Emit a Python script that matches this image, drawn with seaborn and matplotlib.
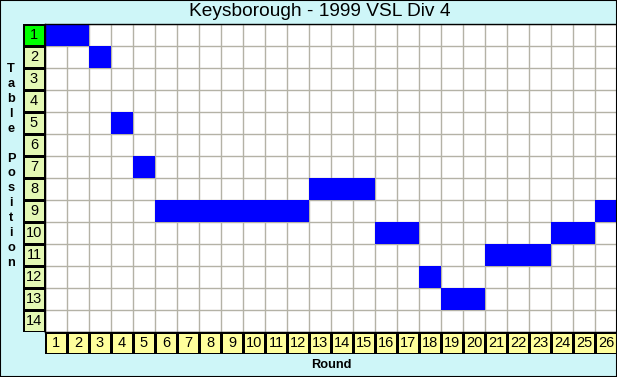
import matplotlib
matplotlib.use("Agg")
import matplotlib.pyplot as plt
from matplotlib.colors import ListedColormap
import seaborn as sns
import pandas as pd
import numpy as np

# --- data ---
rounds = list(range(1, 27))
positions = [1, 1, 2, 5, 7, 9, 9, 9, 9, 9, 9, 9, 8, 8, 8, 10, 10, 12, 13, 13, 11, 11, 11, 10, 10, 9]
table_rows = list(range(1, 15))
title = "Keysborough - 1999 VSL Div 4"

BG = "#cef6f8"
BLUE = "#0000ff"
GRID = "#b4b2a6"
YCELL = "#e4f8b4"
XCELL = "#ffff9c"
GREEN = "#00ff00"

n_rows = len(table_rows)
n_cols = len(rounds)

# position grid: 1 where the team sat in that round
grid = pd.DataFrame(0.0, index=table_rows, columns=rounds)
for r, p in zip(rounds, positions):
    grid.loc[p, r] = 1.0

best = min(positions)
row_codes = pd.DataFrame({"pos": [1.0 if p == best else 0.0 for p in table_rows]}, index=table_rows)
row_labels = np.array([[str(p)] for p in table_rows])
col_codes = pd.DataFrame([[0.0] * n_cols], columns=rounds)
col_labels = np.array([[str(r) for r in rounds]])

plt.rcParams["font.family"] = ["Liberation Sans", "DejaVu Sans"]

W, H = 617, 377
cell = 22
x0, y0 = 45, 24  # top-left of the position grid in pixels

fig = plt.figure(figsize=(W / 100, H / 100), dpi=100, facecolor=BG)

# main grid
ax = fig.add_axes([x0 / W, 1 - (y0 + n_rows * cell) / H, n_cols * cell / W, n_rows * cell / H])
ax.set_facecolor("white")
sns.heatmap(grid, mask=grid.values == 0, cmap=ListedColormap([BLUE]), cbar=False,
            linewidths=0, xticklabels=False, yticklabels=False, ax=ax)
ax.set_xticks(np.arange(n_cols + 1), minor=True)
ax.set_yticks(np.arange(n_rows + 1), minor=True)
ax.set_axisbelow(True)
ax.grid(which="minor", color=GRID, linewidth=1.0)
ax.tick_params(which="both", length=0)
for s in ax.spines.values():
    s.set_visible(True)
    s.set_color("black")
    s.set_linewidth(1.0)

# row label column
ay = fig.add_axes([(x0 - cell) / W, 1 - (y0 + n_rows * cell) / H, cell / W, n_rows * cell / H])
sns.heatmap(row_codes, cmap=ListedColormap([YCELL, GREEN]), vmin=-0.5, vmax=1.5, cbar=False,
            linewidths=0.75, linecolor="black", annot=row_labels, fmt="",
            annot_kws={"color": "black", "fontsize": 10.5},
            xticklabels=False, yticklabels=False, ax=ay)
ay.tick_params(length=0)

# round label row
axx = fig.add_axes([x0 / W, 1 - (y0 + (n_rows + 1) * cell) / H, n_cols * cell / W, cell / H])
sns.heatmap(col_codes, cmap=ListedColormap([XCELL]), cbar=False,
            linewidths=0.75, linecolor="black", annot=col_labels, fmt="",
            annot_kws={"color": "black", "fontsize": 10.5},
            xticklabels=False, yticklabels=False, ax=axx)
axx.tick_params(length=0)

fig.text(320 / W, 1 - 12 / H, title, ha="center", va="center", fontsize=13.8)
fig.text(331 / W, 1 - 365 / H, "Round", ha="center", va="center",
         fontsize=9.2, fontweight="bold")
fig.text(11 / W, 1 - 166 / H, "\n".join("Table Position"), ha="center", va="center",
         fontsize=9.2, fontweight="bold", linespacing=1.33)

fig.patches.append(plt.Rectangle((0, 0), 1, 1, transform=fig.transFigure, fill=False,
                                 ec="black", lw=1.5))
fig.savefig("out.png", dpi=100, facecolor=BG)
